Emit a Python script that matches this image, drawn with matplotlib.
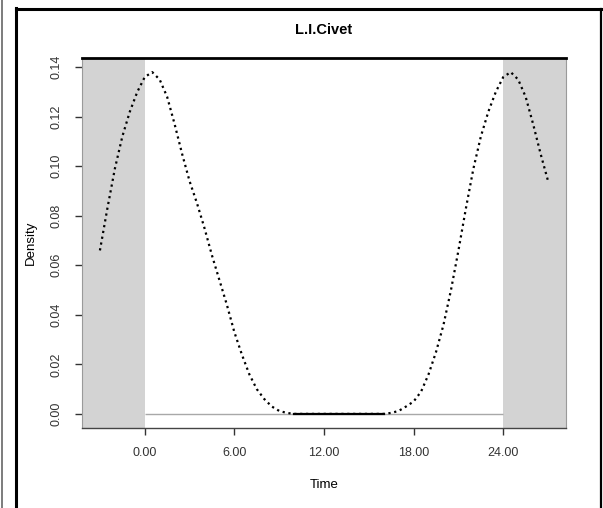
import numpy as np
import matplotlib
matplotlib.use("Agg")
import matplotlib.pyplot as plt
from matplotlib.lines import Line2D

plt.rcParams['font.family'] = ['Liberation Sans', 'DejaVu Sans']

# kernel density of activity over one day (hours 0..24, step 0.5)
hours = np.arange(0, 24.5, 0.5)
density = [0.136, 0.138, 0.135, 0.128, 0.117, 0.105, 0.094, 0.085, 0.075, 0.064,
           0.054, 0.044, 0.033, 0.024, 0.016, 0.010, 0.006, 0.003, 0.0012, 0.0004,
           0, 0, 0, 0, 0, 0, 0, 0, 0, 0, 0, 0, 0,
           0.0004, 0.0012, 0.003, 0.005, 0.009, 0.016, 0.025, 0.036, 0.050, 0.066,
           0.083, 0.099, 0.112, 0.122, 0.130, 0.136]
x_ticks = [0, 6, 12, 18, 24]
x_labels = ["0.00", "6.00", "12.00", "18.00", "24.00"]
y_ticks = [0.00, 0.02, 0.04, 0.06, 0.08, 0.10, 0.12, 0.14]
title = "L.I.Civet"
extend = 3  # hours shown beyond each end of the day

density = np.array(density)
# wrap the circular density a few hours past each end
pre = (hours > 0) & (hours <= extend)
post = (hours >= 24 - extend) & (hours < 24)
xs = np.concatenate([hours[post] - 24, hours, hours[pre] + 24])
ys = np.concatenate([density[post], density, density[pre]])

fig = plt.figure(figsize=(6.03, 5.08), dpi=100)
ax = fig.add_axes([82 / 603, 1 - 428 / 508, 484 / 603, 370 / 508])

xmin, xmax = -extend - 1.2, 24 + extend + 1.2
ax.set_xlim(xmin, xmax)
ax.set_ylim(-0.0057, 0.1437)

ax.axvspan(xmin, 0, color="#d3d3d3", lw=0, zorder=0)
ax.axvspan(24, xmax, color="#d3d3d3", lw=0, zorder=0)
ax.hlines(0, 0, 24, color="#a8a8a8", lw=1, zorder=1)

ax.plot(xs, ys, color="black", ls=":", lw=1.6, zorder=3)
zero = np.where(ys == 0, ys, np.nan)
ax.plot(xs, zero, color="black", lw=1.6, zorder=3)

ax.set_xticks(x_ticks)
ax.set_xticklabels(x_labels)
ax.set_yticks(y_ticks)
ax.set_yticklabels([f"{v:.2f}" for v in y_ticks], rotation=90, va="center")
ax.tick_params(axis="both", labelsize=9, colors="#333333", length=5, width=1)
ax.tick_params(axis="x", pad=9)
ax.tick_params(axis="y", pad=9)

for side in ["left", "right"]:
    ax.spines[side].set_color("#9a9a9a")
    ax.spines[side].set_linewidth(0.8)
ax.spines["top"].set_color("black")
ax.spines["top"].set_linewidth(2)
ax.spines["bottom"].set_color("#444444")
ax.spines["bottom"].set_linewidth(1)

ax.set_xlabel("Time", fontsize=9.5, labelpad=14)
ax.set_ylabel("Density", fontsize=9.5, labelpad=10)
ax.set_title(title, fontsize=10.5, fontweight="bold", pad=17)

# outer frame of the figure
W, H = 603, 508
def frame(x0, y0, x1, y1, lw, color):
    fig.add_artist(Line2D([x0 / W, x1 / W], [1 - y0 / H, 1 - y1 / H],
                          lw=lw, color=color, transform=fig.transFigure))
frame(1.5, 0, 1.5, H, 1.2, "#666666")
frame(16, 8, 16, H, 2.2, "black")
frame(16, 9, 601, 9, 2.2, "black")
frame(600.5, 9, 600.5, H, 1.6, "black")

fig.savefig("out.png", dpi=100)
